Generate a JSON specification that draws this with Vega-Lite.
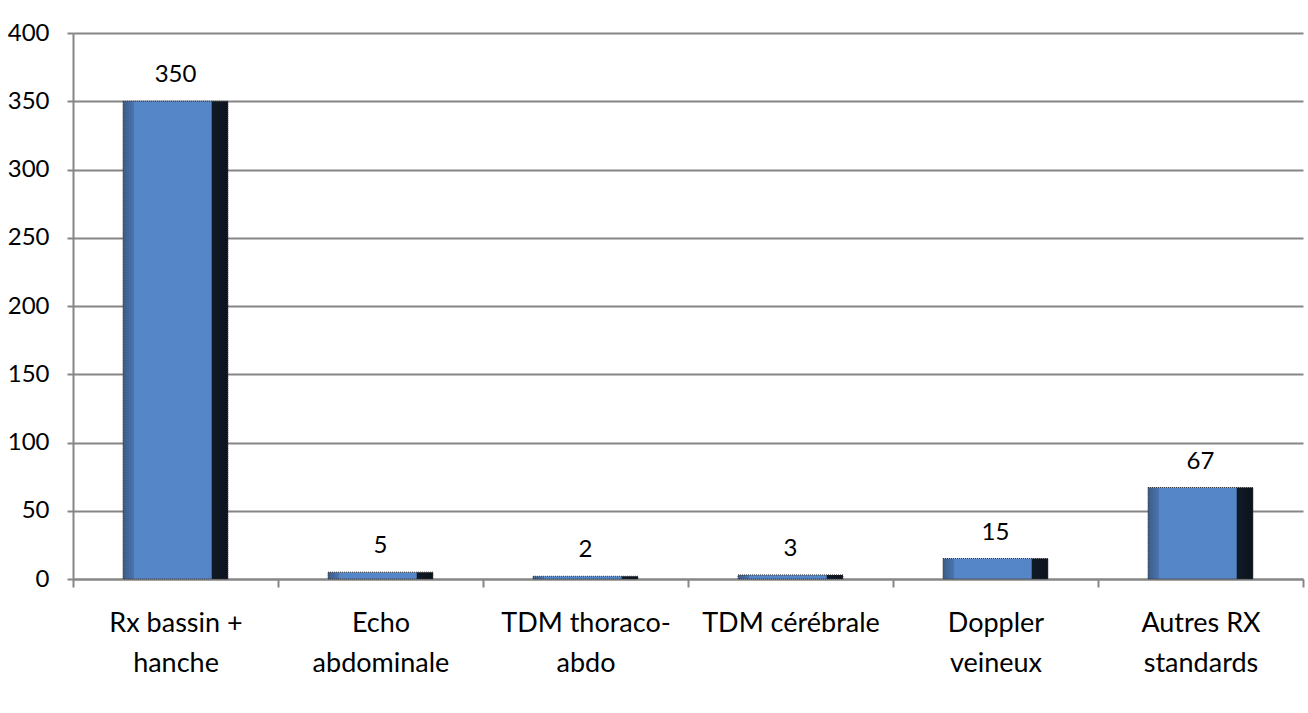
{
  "$schema": "https://vega.github.io/schema/vega-lite/v6.json",
  "autosize": {"type": "none"},
  "width": 1230,
  "height": 546,
  "padding": {"left": 73, "top": 33, "right": 5, "bottom": 134},
  "background": "white",
  "config": {
    "font": "Lato",
    "view": {"stroke": null}
  },
  "data": {
    "values": [
      {"examen": "Rx bassin + hanche", "n": 350},
      {"examen": "Echo abdominale", "n": 5},
      {"examen": "TDM thoraco-abdo", "n": 2},
      {"examen": "TDM cérébrale", "n": 3},
      {"examen": "Doppler veineux", "n": 15},
      {"examen": "Autres RX standards", "n": 67}
    ]
  },
  "encoding": {
    "x": {
      "field": "examen",
      "type": "nominal",
      "sort": null,
      "scale": {"paddingInner": 0, "paddingOuter": 0},
      "axis": {
        "title": null,
        "labelAngle": 0,
        "labelFontSize": 27,
        "labelColor": "#000000",
        "labelPadding": 23,
        "labelLineHeight": 40,
        "labelBaseline": "top",
        "tickBand": "extent",
        "tickSize": 8,
        "tickColor": "#868686",
        "tickWidth": 2,
        "domainColor": "#868686",
        "domainWidth": 2,
        "labelExpr": "datum.label == 'Rx bassin + hanche' ? ['Rx bassin +', 'hanche'] : datum.label == 'Echo abdominale' ? ['Echo', 'abdominale'] : datum.label == 'TDM thoraco-abdo' ? ['TDM thoraco-', 'abdo'] : datum.label == 'Doppler veineux' ? ['Doppler', 'veineux'] : datum.label == 'Autres RX standards' ? ['Autres RX', 'standards'] : datum.label"
      }
    },
    "y": {
      "field": "n",
      "type": "quantitative",
      "scale": {"domain": [0, 400]},
      "axis": {
        "title": null,
        "values": [0, 50, 100, 150, 200, 250, 300, 350, 400],
        "labelFontSize": 24,
        "labelColor": "#000000",
        "labelPadding": 18,
        "tickSize": 6,
        "tickColor": "#868686",
        "tickWidth": 2,
        "domainColor": "#868686",
        "domainWidth": 2,
        "gridColor": "#868686",
        "gridWidth": 2
      }
    }
  },
  "layer": [
    {
      "mark": {
        "type": "bar",
        "width": {"band": 0.512},
        "stroke": "#333333",
        "strokeWidth": 1,
        "strokeDash": [1, 1],
        "color": {
          "gradient": "linear",
          "x1": 0, "y1": 0, "x2": 1, "y2": 0,
          "stops": [
            {"offset": 0, "color": "#3b5c88"},
            {"offset": 0.1, "color": "#4a74ad"},
            {"offset": 0.11, "color": "#5586c7"},
            {"offset": 0.84, "color": "#5586c7"},
            {"offset": 0.85, "color": "#101a26"},
            {"offset": 1, "color": "#0c131c"}
          ]
        }
      }
    },
    {
      "mark": {"type": "text", "baseline": "bottom", "dy": -14, "fontSize": 24, "color": "#000000"},
      "encoding": {"text": {"field": "n", "type": "quantitative"}}
    }
  ]
}
